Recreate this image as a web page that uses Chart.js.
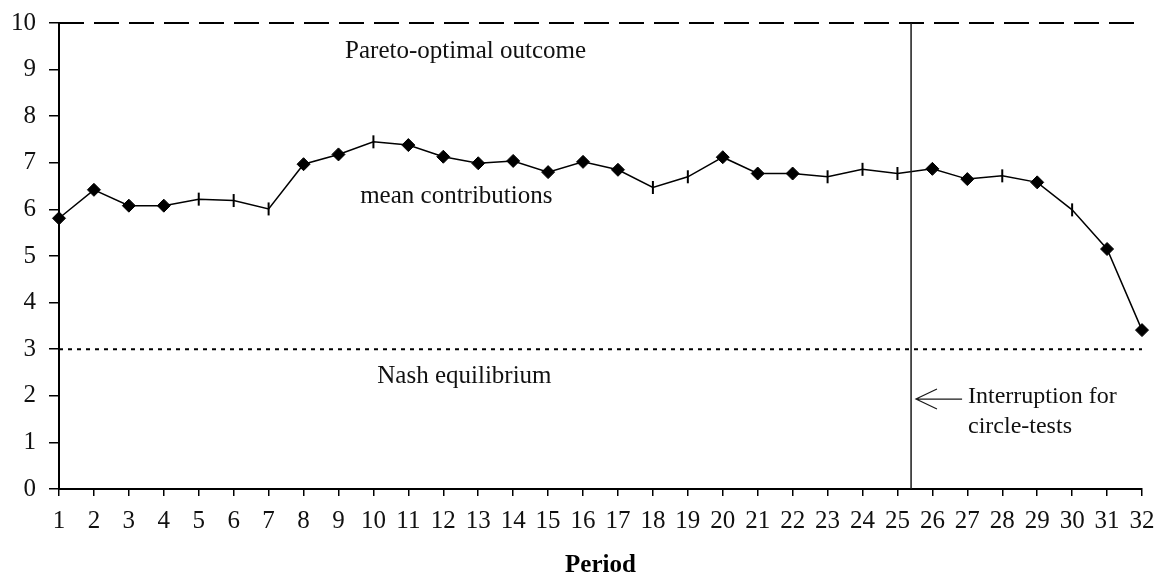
<!DOCTYPE html>
<html>
<head>
<meta charset="utf-8">
<script src="https://cdn.jsdelivr.net/npm/chart.js@4.4.0/dist/chart.umd.min.js"></script>
<style>
  html, body { margin: 0; padding: 0; background: #fff; }
  canvas { display: block; }
</style>
</head>
<body>
<canvas id="chart" width="1162" height="582"></canvas>
<script>
// ===== Data =====
const periods = [1, 2, 3, 4, 5, 6, 7, 8, 9, 10, 11, 12, 13, 14, 15, 16,
                 17, 18, 19, 20, 21, 22, 23, 24, 25, 26, 27, 28, 29, 30, 31, 32];
const meanContributions = [5.81, 6.42, 6.08, 6.08, 6.22, 6.19, 6.01, 6.97, 7.18, 7.45, 7.38,
                           7.13, 6.99, 7.04, 6.80, 7.02, 6.85, 6.47, 6.70, 7.12, 6.77,
                           6.77, 6.70, 6.86, 6.77, 6.87, 6.65, 6.72, 6.58, 5.99, 5.15, 3.41];
// periods drawn with a dash marker instead of a diamond
const dashPeriods = [5, 6, 7, 10, 18, 19, 23, 24, 25, 28, 30];
const paretoLevel = 10;
const nashLevel = 3;
const interruptionAt = 25.39;
const yTickValues = [0, 1, 2, 3, 4, 5, 6, 7, 8, 9, 10];

// annotation texts, anchored in data units (left edge, baseline)
const noteTexts = ['Pareto-optimal outcome', 'mean contributions', 'Nash equilibrium',
                   'Interruption for', 'circle-tests'];
const noteX = [9.19, 9.62, 10.11, 27.02, 27.02];
const noteY = [9.25, 6.14, 2.27, 1.85, 1.20];
const arrowFrom = { x: 26.85, y: 1.93 };
const arrowTo = { x: 25.53, y: 1.93 };

const serif = '"Liberation Serif", "Times New Roman", serif';
const noteSizes = [25, 25, 25, 24, 24];

const isDash = periods.map(p => dashPeriods.includes(p));

const annotations = {
  id: 'annotations',
  afterDatasetsDraw(chart) {
    const { ctx, chartArea, scales: { x, y } } = chart;
    ctx.save();

    // interruption line
    const vx = x.getPixelForValue(interruptionAt);
    ctx.strokeStyle = '#1a1a1a';
    ctx.lineWidth = 1.5;
    ctx.beginPath();
    ctx.moveTo(vx, chartArea.top);
    ctx.lineTo(vx, chartArea.bottom);
    ctx.stroke();

    // arrow
    const ax0 = x.getPixelForValue(arrowFrom.x), ay = y.getPixelForValue(arrowFrom.y);
    const ax1 = x.getPixelForValue(arrowTo.x);
    ctx.lineWidth = 1.2;
    ctx.beginPath();
    ctx.moveTo(ax0, ay);
    ctx.lineTo(ax1, ay);
    ctx.moveTo(ax1 + 21, ay - 10);
    ctx.lineTo(ax1, ay);
    ctx.lineTo(ax1 + 21, ay + 10);
    ctx.stroke();

    // labels
    ctx.fillStyle = '#111';
    ctx.textAlign = 'left';
    ctx.textBaseline = 'alphabetic';
    noteTexts.forEach((t, i) => {
      ctx.font = noteSizes[i] + 'px ' + serif;
      ctx.fillText(t, x.getPixelForValue(noteX[i]), y.getPixelForValue(noteY[i]));
    });
    ctx.restore();
  }
};

const ctx = document.getElementById('chart').getContext('2d');

const chart = new Chart(ctx, {
  type: 'line',
  data: {
    datasets: [
      {
        label: 'mean contributions',
        data: periods.map((p, i) => ({ x: p, y: meanContributions[i] })),
        borderColor: '#000',
        borderWidth: 1.5,
        backgroundColor: '#000',
        pointStyle: isDash.map(d => d ? 'line' : 'rectRot'),
        pointRotation: isDash.map(d => d ? 90 : 0),
        pointRadius: 6.5,
        pointBorderWidth: isDash.map(d => d ? 2 : 1),
        pointBorderColor: '#000',
        pointBackgroundColor: '#000',
        tension: 0,
        clip: false
      },
      {
        label: 'Pareto-optimal outcome',
        data: [{ x: periods[0], y: paretoLevel }, { x: periods[periods.length - 1], y: paretoLevel }],
        borderColor: '#000',
        borderWidth: 2,
        borderDash: [25, 10],
        pointRadius: 0,
        clip: false
      },
      {
        label: 'Nash equilibrium',
        data: [{ x: periods[0], y: nashLevel }, { x: periods[periods.length - 1], y: nashLevel }],
        borderColor: '#000',
        borderWidth: 2,
        borderDash: [4, 5],
        pointRadius: 0,
        clip: false
      }
    ]
  },
  options: {
    responsive: false,
    animation: false,
    events: [],
    layout: { padding: { top: 23, right: 20, bottom: 0, left: 0 } },
    plugins: {
      legend: { display: false },
      tooltip: { enabled: false }
    },
    scales: {
      x: {
        type: 'linear',
        min: 1,
        max: 32,
        afterFit: scale => { scale.height = 93; scale.paddingLeft = 0; scale.paddingRight = 0; },
        border: { display: true, color: '#000', width: 2 },
        grid: { drawOnChartArea: false, drawTicks: true, tickLength: 7, color: '#000', lineWidth: 1.5 },
        ticks: {
          stepSize: 1,
          autoSkip: false,
          maxRotation: 0,
          padding: 10,
          color: '#111',
          font: { family: serif, size: 25 }
        },
        title: {
          display: true,
          text: 'Period',
          color: '#000',
          font: { family: serif, size: 25, weight: 'bold' },
          padding: { top: 0, bottom: 1 }
        }
      },
      y: {
        min: 0,
        max: 10,
        afterFit: scale => { scale.width = 59; scale.paddingTop = 0; scale.paddingBottom = 0; },
        afterBuildTicks: scale => { scale.ticks = yTickValues.map(v => ({ value: v })); },
        border: { display: true, color: '#000', width: 2 },
        grid: { drawOnChartArea: false, drawTicks: true, tickLength: 10, color: '#000', lineWidth: 1.5 },
        ticks: {
          padding: 13,
          color: '#111',
          font: { family: serif, size: 25 }
        }
      }
    }
  },
  plugins: [annotations]
});
</script>
</body>
</html>
